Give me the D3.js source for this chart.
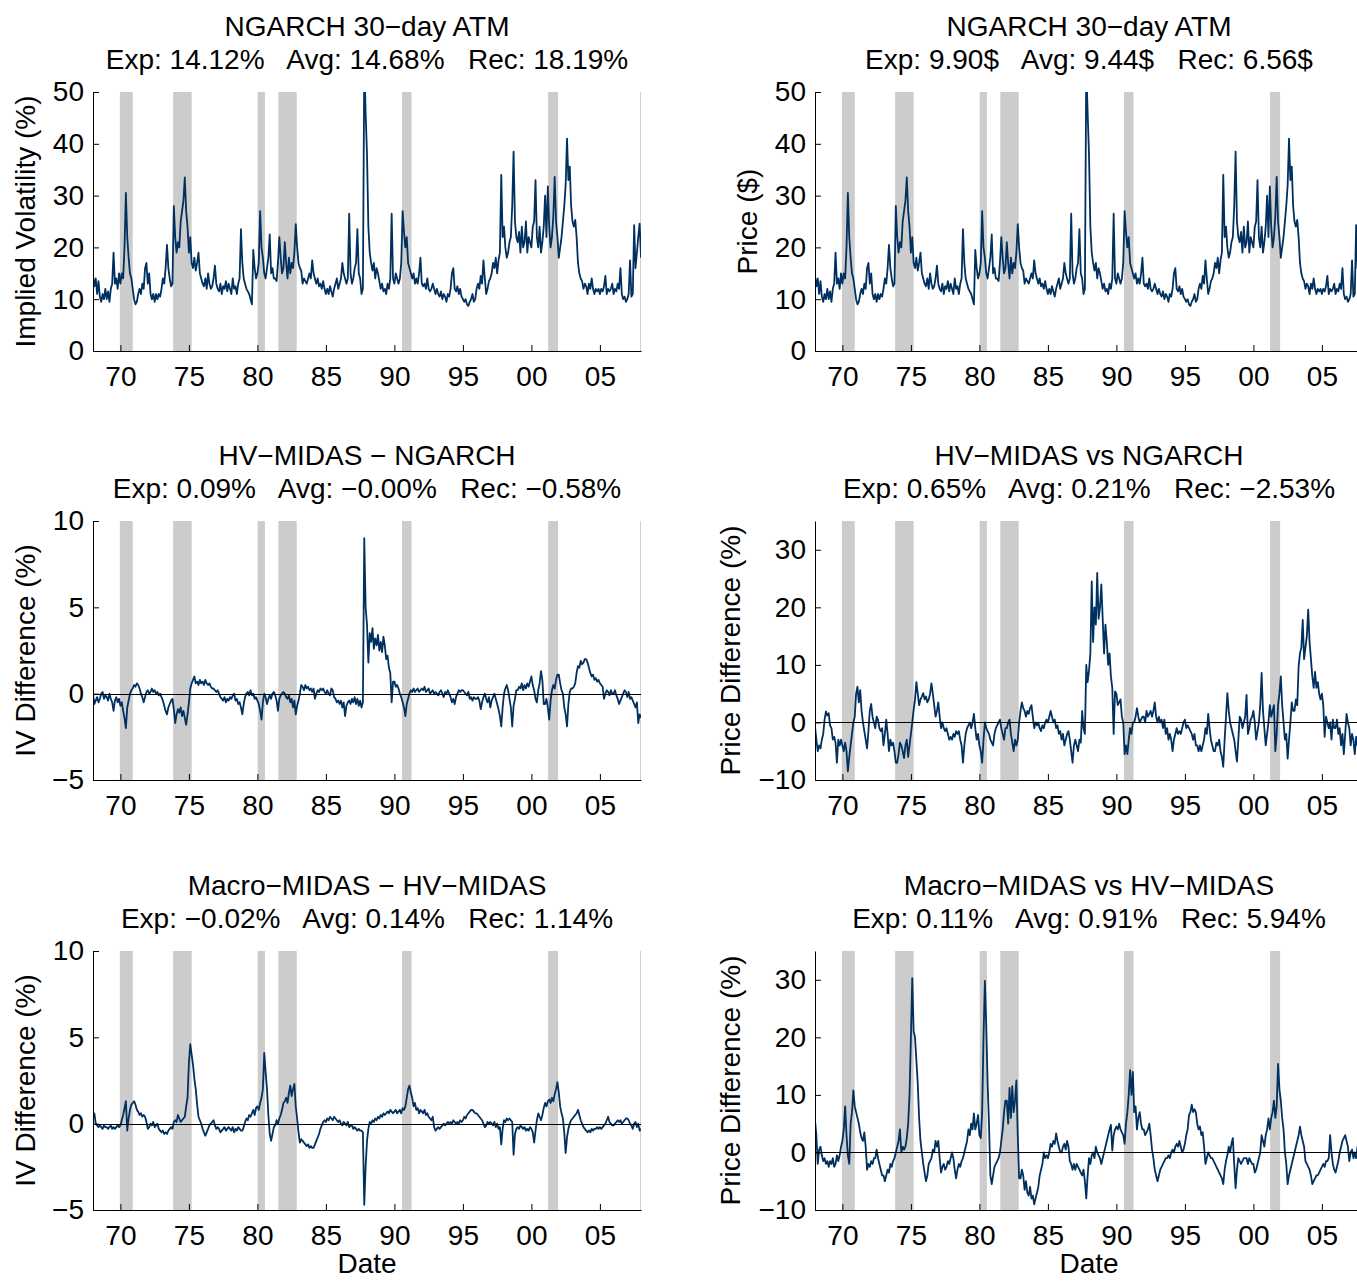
<!DOCTYPE html>
<html>
<head>
<meta charset="utf-8">
<script src="https://cdn.jsdelivr.net/npm/d3@7"></script>
<style>
  body { margin: 0; background: #fff; }
  svg text { font-family: "Liberation Sans", Arial, Helvetica, sans-serif; fill: #000; }
</style>
</head>
<body>
<svg id="chart" width="1357" height="1281"></svg>
<script>
// ---------------------------------------------------------------------------
// Data: one value every 0.1 year, 1968.0 .. 2008.0 (one row per year)
// ---------------------------------------------------------------------------
const startYear = 1968;
const step = 0.1;

// NBER recessions, as drawn (decimal years)
const recessions = [
  [1969.96, 1970.9], [1973.85, 1975.2], [1980.02, 1980.55],
  [1981.53, 1982.87], [1990.55, 1991.25], [2001.22, 2001.95]
];

const xTickYears = [1970, 1975, 1980, 1985, 1990, 1995, 2000, 2005];

// NGARCH 30-day ATM implied volatility (%)
const ivNgarch = [
  14.5, 12.5, 14, 11, 13.5, 10.5, 9.5, 11, 10, 12,
  10, 11.5, 9.5, 12, 13, 19, 13, 14, 12, 15,
  13, 15, 14, 20, 30.5, 22, 18, 15, 14, 12,
  10, 9, 9.5, 11, 12, 11, 13, 12, 16, 17,
  13, 15, 11, 10, 11, 9.5, 11, 10, 11, 10.5,
  12, 14, 13, 16, 20.5, 16, 14, 12.5, 13, 28,
  22, 19, 21, 20, 25, 27, 29, 33.5, 27, 24,
  19, 22, 17, 16, 18, 15.5, 17, 19, 15, 14,
  13, 12.5, 14, 12, 15, 13, 12, 12.5, 14, 16.5,
  13, 12, 11.5, 13, 11, 12.5, 12, 13.5, 11.5, 13,
  12, 11, 14, 12, 12.5, 11, 13, 14, 23.5, 17,
  14, 13, 12, 11.5, 11, 10, 9, 19.5, 16, 14,
  15, 17, 27, 20, 18, 15, 14, 16, 18, 22.5,
  15, 16, 14, 14, 13.5, 17, 22, 18, 15, 16,
  21, 17, 14, 18, 15, 17, 16, 19, 24.5, 20,
  17, 16, 15.5, 13, 14, 13.5, 13, 14, 15, 14,
  17.5, 15, 14, 13, 14, 12.5, 13, 12, 13.5, 12,
  11, 12, 11, 12.5, 11.5, 10.5, 12, 13, 14, 12,
  13, 14, 17, 15, 14, 13, 14, 26.5, 15, 13,
  14, 16, 17, 23.5, 15, 14, 11, 12, 55, 46,
  38, 24, 19, 17, 15.5, 17, 14, 16, 15, 13.5,
  12, 13, 11.5, 12, 11, 13, 12, 14, 26.5, 14,
  13, 15, 14, 13, 14, 17, 27, 23, 20, 22,
  17, 16, 15, 14, 15, 13, 14, 13, 15, 18,
  13, 12.5, 13, 12, 14, 12, 11.5, 12, 13, 12,
  11, 12, 11, 10.5, 11.5, 10, 11, 10.5, 9.5, 11,
  10.5, 12, 15, 16, 12, 11.5, 12.5, 11, 12, 10.5,
  10, 9.5, 10, 9, 8.7, 9.5, 10, 11, 9.5, 10,
  12, 13, 12, 14.5, 13, 17.5, 14, 11, 12, 13.5,
  14, 15, 17, 16, 18, 15, 17.5, 19, 34, 22,
  24, 20, 18, 19, 21, 22, 28, 38.5, 25, 22,
  21, 23, 19, 24, 20, 21, 25, 19, 22, 21,
  20, 24, 25, 33, 22, 20, 24, 19, 21, 24,
  30, 22, 31.8, 24, 20, 22, 26, 33.6, 25, 22,
  18, 20, 22, 25, 28, 32, 41, 33, 35.6, 28,
  25, 24, 25.3, 22, 17, 15, 14, 13.5, 12, 13,
  12.5, 11, 13, 12, 14, 12, 11, 12, 11.5, 12,
  11, 12, 11.5, 12.5, 14.5, 11, 12, 11.5, 12, 13,
  11, 12, 11.5, 13, 12, 16, 11, 10, 10.5, 9.5,
  10, 11, 17.5, 10.5, 11, 24.3, 16, 19, 22, 24.6,
  18
];

// the top-right "Price ($)" panel shows the very same path as the top-left one
const priceNgarch = ivNgarch;

// HV-MIDAS minus NGARCH, implied volatility difference (%)
const hvNgarchIV = [
  0, -0.6, -0.4, -0.2, -0.5, -0.3, 0, 0.1, -0.3, -0.1,
  -0.2, -0.4, 0, -0.3, -0.5, -1.0, -0.4, -0.2, -0.5, -0.3,
  -0.7, -0.5, -1.0, -1.4, -2.0, -0.8, -0.4, 0, 0.2, 0.3,
  0.5, 0.4, 0.6, 0.5, 0.3, 0, -0.2, -0.5, -0.2, 0.1,
  0.2, 0, 0.1, 0.3, 0.1, 0.2, 0, 0.1, -0.1, 0,
  -0.2, -0.4, -0.7, -1.0, -1.2, -0.8, -0.6, -0.4, -0.3, -0.9,
  -1.7, -1.2, -0.9, -1.1, -0.8, -1.3, -1.0, -1.4, -1.8, -1.2,
  -0.5, 0.3, 0.6, 0.8, 1.0, 0.6, 0.7, 0.5, 0.8, 0.6,
  0.7, 0.5, 0.8, 0.6, 0.5, 0.6, 0.4, 0.3, 0.3, 0.2,
  0.1, 0.2, 0, -0.2, -0.3, -0.4, -0.2, -0.5, -0.3, -0.4,
  -0.2, -0.3, -0.1, 0, -0.4, -0.3, -0.6, -0.5, -0.8, -1.2,
  -0.6, -0.2, 0, 0.1, -0.1, 0.2, -0.1, 0, -0.3, -0.2,
  -0.4, -0.6, -1.0, -1.5, -0.5, 0, -0.2, -0.6, -0.3, -0.1,
  -0.3, 0, 0.1, -0.1, -0.4, -1.0, -0.3, -0.1, 0, 0.1,
  0, -0.2, -0.3, -0.1, -0.5, -0.3, -0.8, -0.4, -1.2, -0.7,
  -0.4, 0, 0.5, 0.4, 0.2, 0.5, 0.3, 0.4, 0.2, 0.3,
  0.1, 0.3, -0.3, 0, 0.2, 0.1, 0.3, 0.2, 0.3, 0.1,
  0, 0.2, 0, -0.1, 0.3, 0.2, -0.2, -0.3, -0.5, -0.4,
  -0.6, -0.4, -0.8, -0.5, -1.3, -0.7, -0.5, -0.4, -0.6, -0.3,
  -0.5, -0.2, -0.6, -0.3, -0.7, -0.4, -0.8, -0.5, 9.0, 5.0,
  4.0, 1.8, 3.5, 3.0, 3.8, 2.6, 3.2, 2.8, 3.4, 2.5,
  3.0, 2.4, 3.3, 2.8, 2.0, 2.2, 1.5, 1.2, -0.5, 0.7,
  0.7, 0.4, 0.5, 0.3, 0, -0.2, -0.5, -0.8, -1.3, -0.6,
  -0.3, 0, 0.2, 0.1, 0.3, 0.1, 0.2, 0.3, 0.1, 0.2,
  0.3, 0.2, 0.4, 0.1, 0.2, 0.3, 0, 0.1, 0.2, 0,
  0.1, 0, -0.1, 0.1, 0.2, 0, -0.2, 0.1, 0, 0.2,
  0, -0.2, -0.5, -0.3, -0.6, -0.2, 0, 0.2, 0.1, 0.2,
  0.2, 0.1, 0, -0.1, 0.1, -0.3, -0.2, -0.4, -0.2, -0.3,
  -0.3, -0.2, -0.4, -0.9, -0.5, -0.2, 0, -0.3, -0.5, -0.2,
  -0.8, -0.4, -0.2, 0, -0.3, -0.6, -0.9, -1.3, -1.9, -0.8,
  0, 0.3, 0.5, 0.2, -0.3, -0.8, -1.9, -0.7, -0.3, 0.2,
  0.2, 0.4, 0.3, 0.6, 0.2, 0.5, 0.3, 0.6, 0.4, 0.7,
  1.0, 0.5, 0.2, -0.3, -0.5, 0.2, 0.6, 1.3, 0.8, -0.6,
  -0.6, -0.3, -0.8, -1.5, -0.4, 0.2, 0.5, 0.3, 0.8, 1.1,
  1.1, 0.6, 0.2, 0, -0.8, -1.2, -1.9, -0.6, 0.1, 0.3,
  0.3, 0.4, 0.6, 1.2, 1.6, 1.5, 1.9, 1.7, 1.8, 2.0,
  2.0, 1.8, 1.5, 1.2, 1.0, 1.1, 0.8, 0.9, 0.7, 0.8,
  0.6, 0.5, 0.4, -0.3, 0, 0.2, 0.1, -0.1, 0.2, 0,
  0, 0.2, -0.1, -0.3, -0.6, -0.4, -0.2, 0, 0.2, 0.1,
  -0.2, 0.1, -0.3, -0.2, -0.4, -0.6, -0.8, -0.5, -1.7, -1.2,
  -1.4
];

// HV-MIDAS vs NGARCH, option price difference (%)
const hvNgarchPrice = [
  -0.7, -3, -5, -4, -4.5, -3, -2, 0.5, 1.9, 1.2,
  1.6, -0.5, -1, -3, -2.5, -3.5, -7, -3, -4, -3,
  -4, -5, -3.5, -5, -8.5, -6, -4, -2, 0, 1,
  5, 6.2, 3.5, 5.6, 2, 0, -1.5, -3, -4.5, -1.5,
  2, 3.2, 1, 0, -1, 1, 0.5, -1, -1.5, -1,
  -4, -2, 0.5, -2, -5, -3, -4, -3.5, -5, -7,
  -7, -5.5, -3.5, -4, -5, -6.2, -4, -3, -6, -4,
  -2, 0, 2.2, 4, 7, 5, 3, 4, 4.5, 5.1,
  4, 4.5, 3.5, 4, 5, 6.8, 5, 3, 1, 2,
  3.5, 1, -1, 0, -1, -1.5, -1, -2, -3, -2.5,
  -3, -2, -2.5, -1.5, -2, -1.5, -3, -4, -7, -4,
  -2, -1, -0.5, 0, -1, 0, 1.5, -1, -3, -2,
  -4, -5, -7, -3, 0, -1, -1.5, -2, -3, -3.5,
  -4, -2, -1, -0.5, 0, 0.5, -1, -2, -3, -1,
  -1, 0, 0.5, -2, -3.5, -5, -3, -4, -3, 0,
  2, 3.5, 2.5, 2, 1, 2, 1.5, 2.5, 3, 1,
  -1, 0, -0.5, 0, -1, -1.5, -0.5, -1, 0, 0.5,
  0, 1, 2, 1, 0, 0.5, -1, -0.5, -2, -1.5,
  -3, -2, -4, -3, -2, -1.5, -3, -5, -7, -4,
  -3, -4, -5, -3, -3.5, 2, -1, -2, 10, 7,
  9, 12, 24.5, 14, 20, 17, 26, 18, 20, 24,
  18, 12, 17, 14, 10, 12, 8, 6, -2, 5.4,
  5, 3, 3.5, 4, 1, 0, -5.5, -4, -5.5, -3,
  -1, -2, 0, 0, 1, 2.5, 1, 0, 0.5, 1,
  1, 0, 2, 1, 1.5, 2, 1, 2, 3.5, 1,
  0, 1, 0, 0.5, -1, 0.5, -2, -1, -3, -2,
  -3, -5, -3, -2, -1, -2, -1.5, -2, -1, 0,
  0.5, -1, -0.5, -1, -1.5, -2, -3, -2, -4, -4,
  -5, -4, -5, -4, -3, -1, -2, 1.5, -1, -3,
  -4, -5, -5, -3.5, -4, -3, -5, -6, -7.7, -3,
  1, 5.1, 2, 0, -1, -2, -3, -5, -6.8, -3,
  1, 0.5, -1, 0, 1, 4.8, -2, -1, 0.5, 1,
  2, 0, -3, -1.5, 0, 3, 8.6, 2, -1, -4,
  -2, 0, 3, 1, 2, 3, -5, -2, 3, 5,
  8, 3, 0, -3, -2, -6.3, -3, 0, 3.5, 2,
  2, 4, 3, 9.7, 12, 13, 17.8, 11, 13, 15,
  19.6, 14, 11, 8, 6, 8.8, 6, 7, 5, 4,
  5, 3, -2.5, 1, 0, -1, 0, -3, 0.5, -1,
  -1, 0.5, -2, -1, -4, -2, -5.5, -2, 1.5, 0,
  -1, -4, -2, -3, -5.5, -2.5, -4, -1, -3, -2,
  -1
];

// Macro-MIDAS minus HV-MIDAS, implied volatility difference (%)
const macroHvIV = [
  0.3, 0.6, 0, -0.1, -0.2, -0.1, -0.2, -0.3, -0.1, -0.2,
  -0.2, -0.3, -0.2, -0.1, -0.3, -0.2, -0.3, -0.2, -0.1, -0.2,
  -0.1, 0.2, 0.5, 0.9, 1.3, -0.4, 0.3, 0.8, 1.1, 1.2,
  1.3, 1.1, 0.8, 0.7, 0.5, 0.6, 0.4, 0.5, 0.4, 0.1,
  -0.3, -0.2, 0, -0.1, 0.1, -0.2, -0.1, 0, -0.3, -0.4,
  -0.5, -0.4, -0.6, -0.5, -0.6, -0.4, -0.3, -0.2, -0.3, 0.1,
  0.2, 0.1, 0.5, 0.3, 0.1, 0.2, 0.3, 0.4, 1.0, 1.5,
  3.5, 4.6, 4.0, 3.4, 2.6, 2.0, 1.1, 0.4, 0.2, 0,
  -0.3, -0.5, -0.7, -0.5, -0.3, -0.1, 0, 0.1, 0.2, -0.1,
  -0.3, -0.2, -0.3, -0.5, -0.4, -0.3, -0.2, -0.4, -0.3, -0.2,
  -0.3, -0.4, -0.2, -0.5, -0.3, -0.4, -0.2, -0.3, -0.4, -0.4,
  -0.2, 0.1, 0.3, 0.2, 0.5, 0.4, 0.6, 0.8, 0.5, 0.9,
  1.0, 0.8, 1.2, 1.5, 2.0, 4.1, 3.0, 2.0, 0.5, -0.6,
  -1.0, -0.6, -0.2, -0.1, 0.2, 0, 0.3, 0.5, 0.8, 1.2,
  1.3, 1.5, 1.2, 1.8, 2.2, 1.6, 2.0, 2.3, 1.0, 0.3,
  -0.5, -1.1, -0.9, -1.0, -1.1, -1.2, -1.3, -1.2, -1.4, -1.3,
  -1.4, -1.4, -1.2, -1.0, -0.8, -0.6, -0.3, -0.1, 0.1, 0.2,
  0.1, 0.3, 0.2, 0.4, 0.3, 0.2, 0.4, 0.3, 0.2, 0.1,
  0.2, 0, -0.1, 0.1, 0, -0.1, 0.1, -0.2, -0.1, -0.1,
  -0.3, -0.2, -0.3, -0.4, -0.3, -0.4, -0.4, -0.5, -4.7, -2.5,
  -1.0, -0.3, 0.1, 0, 0.2, 0.1, 0.3, 0.2, 0.4, 0.3,
  0.5, 0.4, 0.6, 0.5, 0.6, 0.7, 0.6, 0.8, 0.7, 0.6,
  0.7, 0.8, 0.6, 0.7, 0.8, 0.6, 0.9, 0.8, 1.0, 1.5,
  2.0, 2.2, 1.8, 1.5, 1.0, 1.2, 0.8, 0.9, 0.6, 0.8,
  0.7, 0.6, 0.8, 0.5, 0.6, 0.4, 0.3, 0.2, 0.4, -0.2,
  -0.4, -0.3, -0.2, -0.3, -0.2, -0.1, 0, -0.1, 0, 0.1,
  0, 0.1, 0, 0.2, 0.1, 0, 0.1, 0, 0.2, 0.1,
  0.2, 0.4, 0.3, 0.5, 0.6, 0.7, 0.8, 0.8, 0.7, 0.6,
  0.6, 0.5, 0.4, 0.3, 0.2, 0, -0.2, -0.1, 0.1, 0,
  0.1, 0, -0.1, 0.1, -0.2, 0, -0.3, -0.2, -1.2, -0.3,
  0.2, 0.1, 0.3, 0.2, 0.3, 0.2, 0.1, -1.8, -0.6, -0.3,
  -0.2, -0.3, -0.1, -0.2, -0.3, -0.2, -0.4, -0.3, -0.4, -0.2,
  -0.3, -0.5, -1.1, -0.4, 0.2, 0.6, 0.4, 0.2, 0.5, 0.9,
  1.2, 1.0, 1.3, 1.4, 1.2, 1.5, 1.3, 1.7, 2.0, 2.4,
  1.8, 1.0, 0.6, 0.3, -0.5, -1.7, -0.8, -0.3, 0, 0.2,
  0.3, 0.4, 0.5, 0.6, 0.8, 0.5, 0.2, 0, -0.2, -0.3,
  -0.4, -0.5, -0.4, -0.5, -0.3, -0.4, -0.3, -0.3, -0.2, -0.3,
  -0.2, -0.3, -0.2, -0.1, 0, 0.2, 0.4, 0.1, 0, -0.1,
  -0.1, 0, 0.1, 0.2, 0.1, 0.2, 0, 0.1, 0.2, 0.3,
  0.3, 0.2, 0, -0.1, -0.3, 0, 0.1, -0.2, 0, -0.4,
  -0.3
];

// Macro-MIDAS vs HV-MIDAS, option price difference (%)
const macroHvPrice = [
  5.6, 3, -2, 0.5, 1, -0.5, -1.5, -1, -2, -1.5,
  -2.5, -1.5, -2, -1, -2.5, -2, -0.5, -1.5, -0.5, 1,
  2, 4, 8, 3, -0.5, -2, 5, 7, 10.8, 8,
  7, 6, 5, 3.5, 2.5, 2, 3.5, 1, -3, -2,
  -2.5, -1.5, -2, -1, -1, 0.5, -1, -2, -3, -4,
  -4, -5, -4, -3, -3.5, -2, -2.5, -1.5, -1, 0,
  1, 2, 4, 0, 1, 0.5, 1, 2.5, 5, 10,
  20, 30.3, 21, 20, 16, 12, 6, 2, 0, -2,
  -3.5, -5, -4, -2, -1.5, -1, 0.5, 0, 2, 1,
  2, -1, -3.5, -2.5, -2, -3, -2.5, -1.5, -2, -1,
  0, -1, -3, -4.5, -3, -2, -2.5, -1.5, -1, 0,
  1, 2, 4, 3, 5, 4, 6.8, 4, 5, 6.5,
  3, 2.5, 7, 20, 29.8, 22, 12, 5, -4, -5.5,
  -4, -2.5, -2, -1.5, -1, 0, 2, 4, 7, 9,
  9, 5, 11.2, 6, 11.5, 7, 9, 12.5, 3, -4.5,
  -4.5, -3, -4, -6.5, -5, -7, -7.5, -6, -8, -7.5,
  -9, -8, -7, -6, -4, -3, -2, 0, -1, -0.5,
  -1, 0, 1.5, 1, 2, 1.5, 3.3, 2, 1, 0,
  0, 1, 1.5, 0.5, 2, 1, -1.5, -2, -3, -2,
  -3, -2, -2.5, -3, -3.5, -4, -3, -5, -8, -4,
  -1, -2, -0.5, 0, -1, 1, 0, -0.5, -1, -2,
  -1, 0, 1, 2, 3, 4, 4.8, 0.3, 3, 4,
  4.5, 4, 5, 4, 3.5, 3, 1.5, 5, 7, 10,
  14.3, 10, 14, 7, 8, 4, 6, 7, 5, 4,
  4, 3, 3.5, 4, 5, 3, 0.5, -1, -3, -4,
  -5, -4, -3, -2.5, -2, -1.5, -1, -1, -0.5, -1,
  0, 0.5, 0, 1, 1.5, 1, 2, 1, 0, 0.5,
  1.5, 3, 4, 6.5, 7, 8.3, 7, 7.5, 7, 5,
  4, 4.5, 3, 3.5, 1, -2, -1, 0, -0.5, -1,
  -1, -1.5, -2, -2.5, -3, -3.5, -4, -4.5, -5.5, -3,
  -1.5, -0.5, 1, 0, 1.5, 2.5, -2, -6.2, -3, -1,
  -1.5, -2, -1.5, -1, -1, -1, -2, -1, -1.5, -2,
  -2, -3.5, -3, -2, -1, 0, 3, 2, 1, 3,
  4, 5.9, 4, 6, 7, 9, 6, 8, 15.4, 11,
  9, 6, 4, 0, -2, -5.5, -4, -3, -2, -1,
  0, 1, 2, 3, 4.5, 3, 2, 1, -1.5, -2,
  -2.5, -3, -4, -5.5, -5, -4.5, -4, -4, -3.5, -3,
  -2.5, -2, -2.5, -1.5, -1.5, -1, 3, 0, -2, -3,
  -3.5, -2.5, -1.5, 0, 1, 2, 2.5, 3, 2, 1,
  -1.5, 0, 0.5, -1, 0, -1, 1, -0.5, 0, -1,
  -1
];

// ---------------------------------------------------------------------------
// Layout
// ---------------------------------------------------------------------------
const W = 548, H = 259;
const lineColor = "#00305f";
const fontFamily = '"Liberation Sans", Arial, Helvetica, sans-serif';

const panels = [
  { left: 93, top: 92, values: ivNgarch, yDomain: [0, 50], yTicks: [0, 10, 20, 30, 40, 50],
    title: "NGARCH 30\u2212day ATM", stats: "Exp: 14.12%   Avg: 14.68%   Rec: 18.19%",
    yLabel: "Implied Volatility (%)", yLabelX: 35, zero: false },
  { left: 815, top: 92, values: priceNgarch, yDomain: [0, 50], yTicks: [0, 10, 20, 30, 40, 50],
    title: "NGARCH 30\u2212day ATM", stats: "Exp: 9.90$   Avg: 9.44$   Rec: 6.56$",
    yLabel: "Price ($)", yLabelX: 757, zero: false },
  { left: 93, top: 521, values: hvNgarchIV, yDomain: [-5, 10], yTicks: [-5, 0, 5, 10],
    title: "HV\u2212MIDAS \u2212 NGARCH", stats: "Exp: 0.09%   Avg: \u22120.00%   Rec: \u22120.58%",
    yLabel: "IV Difference (%)", yLabelX: 35, zero: true },
  { left: 815, top: 521, values: hvNgarchPrice, yDomain: [-10, 35], yTicks: [-10, 0, 10, 20, 30],
    title: "HV\u2212MIDAS vs NGARCH", stats: "Exp: 0.65%   Avg: 0.21%   Rec: \u22122.53%",
    yLabel: "Price Difference (%)", yLabelX: 740, zero: true },
  { left: 93, top: 951, values: macroHvIV, yDomain: [-5, 10], yTicks: [-5, 0, 5, 10],
    title: "Macro\u2212MIDAS \u2212 HV\u2212MIDAS", stats: "Exp: \u22120.02%   Avg: 0.14%   Rec: 1.14%",
    yLabel: "IV Difference (%)", yLabelX: 35, zero: true, xLabel: "Date" },
  { left: 815, top: 951, values: macroHvPrice, yDomain: [-10, 35], yTicks: [-10, 0, 10, 20, 30],
    title: "Macro\u2212MIDAS vs HV\u2212MIDAS", stats: "Exp: 0.11%   Avg: 0.91%   Rec: 5.94%",
    yLabel: "Price Difference (%)", yLabelX: 740, zero: true, xLabel: "Date" }
];

const svg = d3.select("#chart");

function drawPanel(p, idx) {
  const x = d3.scaleLinear().domain([1968, 2008]).range([0, W]);
  const y = d3.scaleLinear().domain(p.yDomain).range([H, 0]);

  const g = svg.append("g").attr("transform", "translate(" + p.left + "," + p.top + ")");

  g.append("clipPath").attr("id", "clip" + idx)
    .append("rect").attr("width", W).attr("height", H);

  // recession shading
  g.selectAll("rect.rec")
    .data(recessions)
    .join("rect")
    .attr("class", "rec")
    .attr("x", d => x(d[0]))
    .attr("width", d => x(d[1]) - x(d[0]))
    .attr("y", 0)
    .attr("height", H)
    .attr("fill", "#cccccc");

  // faint right border of the box
  g.append("line")
    .attr("x1", W - 0.5).attr("x2", W - 0.5)
    .attr("y1", 0).attr("y2", H)
    .attr("stroke", "#d0d0d0").attr("stroke-width", 1);

  const pts = p.values.map((v, i) => [startYear + i * step, v]);

  g.append("path")
    .datum(pts)
    .attr("clip-path", "url(#clip" + idx + ")")
    .attr("fill", "none")
    .attr("stroke", lineColor)
    .attr("stroke-width", 1.8)
    .attr("stroke-linejoin", "round")
    .attr("d", d3.line().x(d => x(d[0])).y(d => y(d[1])));

  if (p.zero) {
    g.append("line")
      .attr("x1", 0).attr("x2", W)
      .attr("y1", Math.round(y(0)) + 0.5).attr("y2", Math.round(y(0)) + 0.5)
      .attr("stroke", "#000").attr("stroke-width", 1);
  }

  // axes, MATLAB style: ticks pointing inward
  g.append("g")
    .attr("transform", "translate(0," + H + ")")
    .call(d3.axisBottom(x)
      .tickValues(xTickYears)
      .tickFormat(d => String(d % 100).padStart(2, "0"))
      .tickSize(-6)
      .tickSizeOuter(0)
      .tickPadding(15))
    .attr("font-size", 28)
    .attr("font-family", fontFamily);

  g.append("g")
    .call(d3.axisLeft(y)
      .tickValues(p.yTicks)
      .tickSize(-6)
      .tickSizeOuter(0)
      .tickPadding(9))
    .attr("font-size", 28)
    .attr("font-family", fontFamily);

  // titles
  const cx = p.left + W / 2;
  svg.append("text")
    .attr("x", cx).attr("y", p.top - 56)
    .attr("text-anchor", "middle")
    .attr("font-size", 28)
    .text(p.title);
  svg.append("text")
    .attr("x", cx).attr("y", p.top - 23)
    .attr("text-anchor", "middle")
    .attr("font-size", 28)
    .attr("xml:space", "preserve")
    .style("white-space", "pre")
    .text(p.stats);

  svg.append("text")
    .attr("transform", "translate(" + p.yLabelX + "," + (p.top + H / 2) + ") rotate(-90)")
    .attr("text-anchor", "middle")
    .attr("font-size", 28)
    .text(p.yLabel);

  if (p.xLabel) {
    svg.append("text")
      .attr("x", cx).attr("y", p.top + H + 63)
      .attr("text-anchor", "middle")
      .attr("font-size", 28)
      .text(p.xLabel);
  }
}

panels.forEach(drawPanel);
</script>
</body>
</html>
